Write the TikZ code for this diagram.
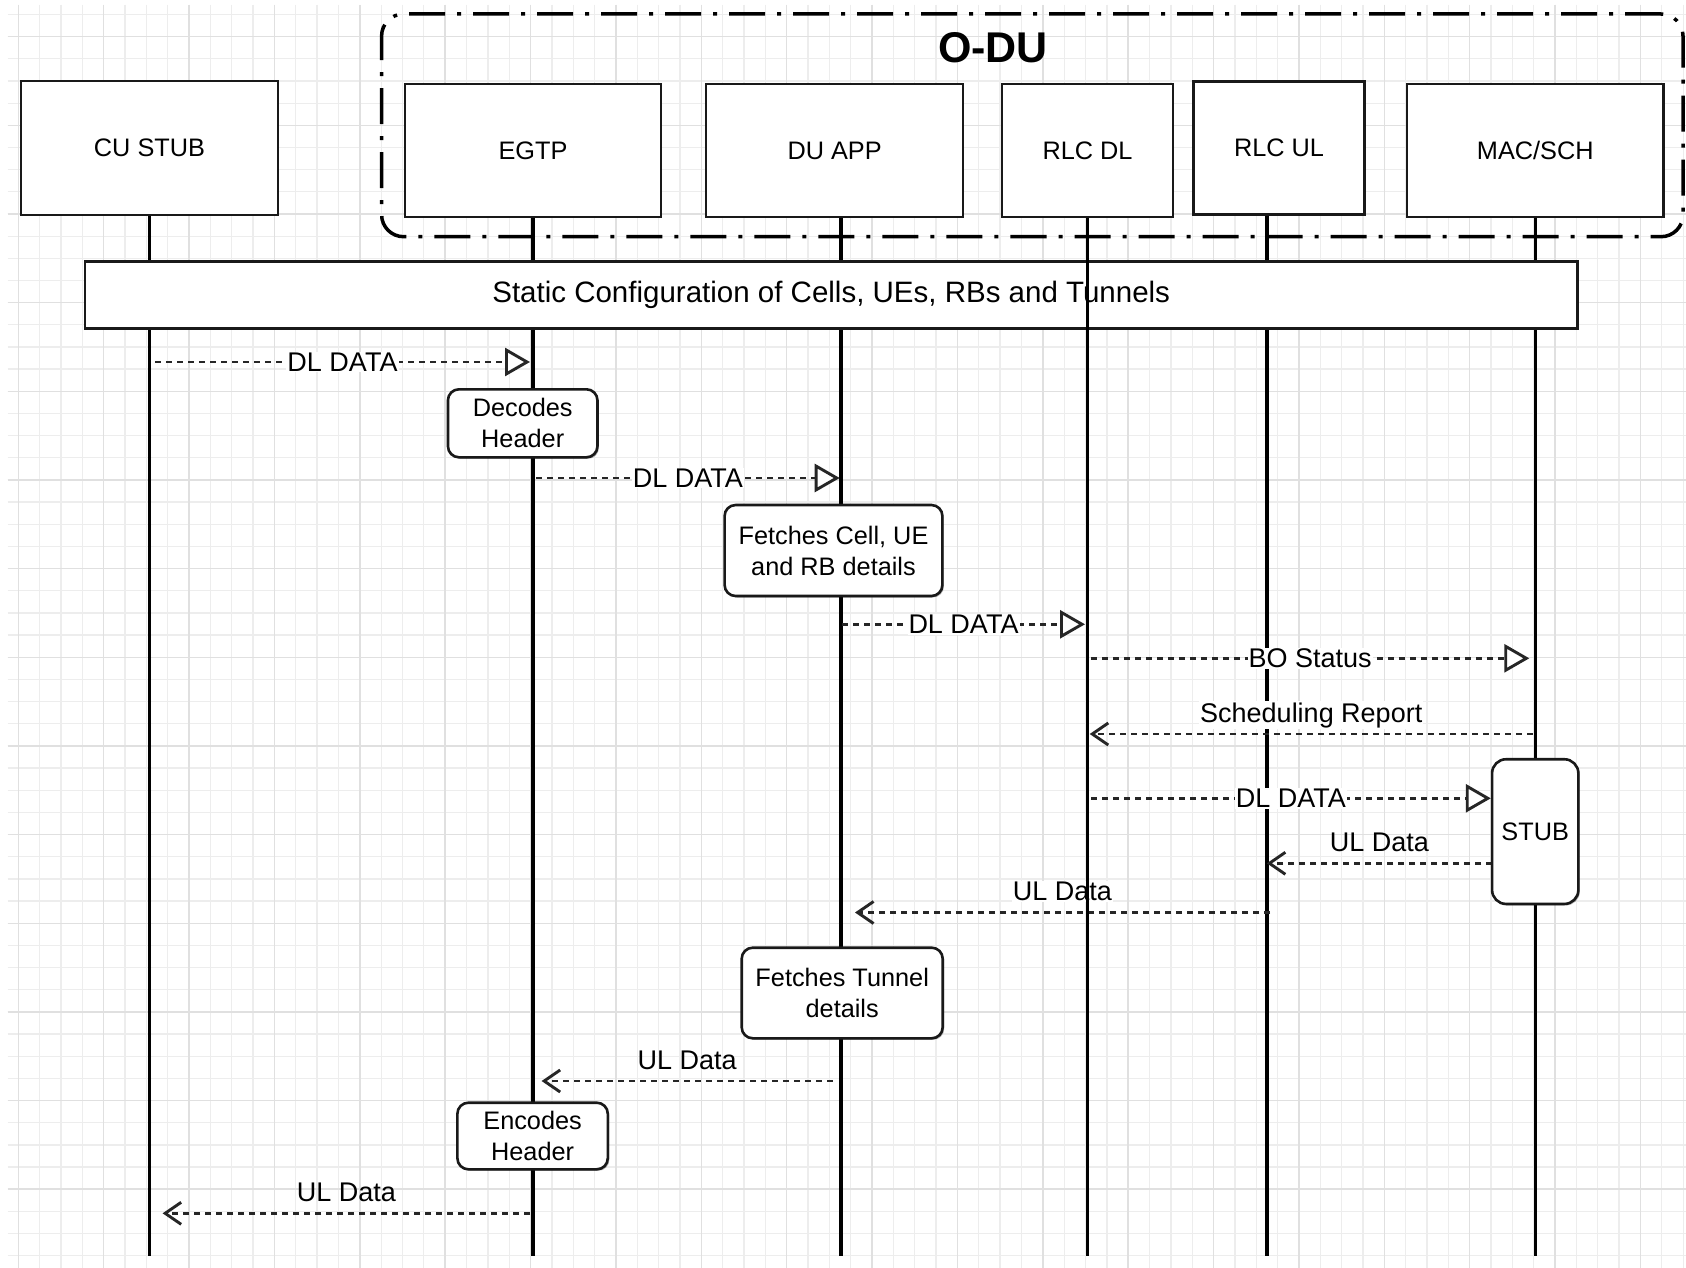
\documentclass[tikz,border=0pt]{standalone}
\usepackage{fontspec}
\setmainfont{Liberation Sans}
\usetikzlibrary{arrows.meta,shadows}
\newcommand\myboxfont{\fontsize{25.3}{31}\selectfont}
\newcommand\mymsgfont{\fontsize{27}{32}\selectfont}
\newcommand\mycfgfont{\fontsize{29.5}{34}\selectfont}
\newcommand\myodufont{\fontsize{43}{50}\selectfont\bfseries}
\begin{document}
\begin{tikzpicture}[x=1pt,y=-1pt,
  minorgrid/.style={draw=black!7, line width=1.3pt},
  majorgrid/.style={draw=black!12, line width=1.6pt},
  headbox/.style={draw=black!90, line width=2.6pt, fill=white, inner sep=0pt, font=\myboxfont},
  actbox/.style={draw=black!90, line width=2.6pt, fill=white, rounded corners=11pt, inner sep=0pt, align=center, font=\myboxfont, drop shadow={shadow xshift=1.5pt, shadow yshift=-1.5pt, opacity=0.3, fill=black}},
  lifeline/.style={draw=black, line width=3.2pt},
  msg/.style={draw=black!85, line width=2.9pt, dash pattern=on 6pt off 5pt},
  fwd/.style={msg, -{Triangle[length=25pt, width=28pt, fill=white]}},
  back/.style={msg, -{Straight Barb[length=16pt, width=22pt]}},
  online/.style={midway, fill=white, inner sep=1pt, font=\mymsgfont, text=black},
  overline/.style={midway, anchor=base, yshift=12pt, inner sep=0pt, font=\mymsgfont, text=black},
]
% background and grid
\fill[white] (0,0) rectangle (1686,1268);
\useasboundingbox (0,0) rectangle (1686,1268);
\foreach \i in {0,...,78}{\draw[minorgrid] ({18.3+21.344*\i},5) -- ({18.3+21.344*\i},1268);}
\foreach \j in {0,...,56}{\draw[minorgrid] (7.5,{14.5+22.165*\j}) -- (1686,{14.5+22.165*\j});}
\foreach \i in {0,...,19}{\draw[majorgrid] ({18.3+85.375*\i},5) -- ({18.3+85.375*\i},1268);}
\foreach \j in {0,...,13}{\draw[majorgrid] (7.5,{36.7+88.66*\j}) -- (1686,{36.7+88.66*\j});}

% O-DU group
\node[draw=black, line width=3.5pt, dash pattern=on 36pt off 12pt on 4pt off 12pt,
      rounded corners=22pt, minimum width=1301.4pt, minimum height=222.7pt, inner sep=0pt]
      (odu) at (1032.3,125.35) {};
\node[font=\myodufont, inner sep=0pt] (odulbl) at (993,48) {O-DU};

% head boxes
\node[headbox, minimum width=257pt, minimum height=134pt] (cu) at (149.5,148) {CU STUB};
\node[headbox, minimum width=256pt, minimum height=133pt] (egtp) at (533,150.7) {EGTP};
\node[headbox, minimum width=257pt, minimum height=133pt] (duapp) at (834.6,150.7) {DU APP};
\node[headbox, minimum width=171pt, minimum height=133pt] (rlcdl) at (1087.5,150.7) {RLC DL};
\node[headbox, minimum width=171.5pt, minimum height=132.5pt] (rlcul) at (1279,148) {RLC UL};
\node[headbox, minimum width=256.5pt, minimum height=133pt] (mac) at (1535.3,150.7) {MAC/SCH};

% lifelines
\coordinate (bot) at (0,1256);
\coordinate (cuTop) at (cu.south);
\coordinate (egTop) at (egtp.south);
\coordinate (duTop) at ([xshift=6.4pt]duapp.south);
\coordinate (dlTop) at (rlcdl.south);
\coordinate (ulTop) at ([xshift=-12pt]rlcul.south);
\coordinate (macTop) at (mac.south);
\coordinate (cuBot) at (cuTop |- bot);
\coordinate (egBot) at (egTop |- bot);
\coordinate (duBot) at (duTop |- bot);
\coordinate (dlBot) at (dlTop |- bot);
\coordinate (ulBot) at (ulTop |- bot);
\coordinate (macBot) at (macTop |- bot);
\draw[lifeline] (cuTop) -- (cuBot);
\draw[lifeline] (egTop) -- (egBot);
\draw[lifeline] (duTop) -- (duBot);
\draw[lifeline] (ulTop) -- (ulBot);
\draw[lifeline] (macTop) -- (macBot);

% static configuration bar
\node[draw=black!90, line width=2.6pt, fill=white, minimum width=1492.4pt, minimum height=66.6pt,
      inner sep=0pt, font=\mycfgfont,
      drop shadow={shadow xshift=1.5pt, shadow yshift=-1.5pt, opacity=0.3, fill=black}]
      (cfg) at (831.2,295) {Static Configuration of Cells, UEs, RBs and Tunnels};

% message end points
\coordinate (m1a) at (155,362);    \coordinate (m1b) at (530,362);
\coordinate (m2a) at (536,478);    \coordinate (m2b) at (839.7,478);
\coordinate (m3a) at (842,624.3);  \coordinate (m3b) at (1085,624.3);
\coordinate (m4a) at (1091,658.3); \coordinate (m4b) at (1529.3,658.3);
\coordinate (m5a) at (1532.8,734); \coordinate (m5b) at (1089.7,734);
\coordinate (m6a) at (1091,798.3); \coordinate (m6b) at (1490.8,798.3);
\coordinate (m7a) at (1492,863.3); \coordinate (m7b) at (1266.8,863.3);
\coordinate (m8a) at (1270,912.5); \coordinate (m8b) at (855,912.5);
\coordinate (m9a) at (832.5,1081); \coordinate (m9b) at (541.6,1081);
\coordinate (m10a) at (530,1213.3); \coordinate (m10b) at (162.6,1213.3);

% messages
\draw[fwd] (m1a) -- node[online] (l1) {DL DATA} (m1b);
\draw[fwd] (m2a) -- node[online] (l2) {DL DATA} (m2b);
\draw[fwd] (m3a) -- node[online] (l3) {DL DATA} (m3b);
\draw[fwd] (m4a) -- node[online] (l4) {BO Status} (m4b);
\draw[back] (m5a) -- node[overline, fill=white, inner sep=1pt] (l5) {Scheduling Report} (m5b);
\draw[fwd] (m6a) -- node[online] (l6) {DL DATA} (m6b);
\draw[back] (m7a) -- node[overline] (l7) {UL Data} (m7b);
\draw[back] (m8a) -- node[overline, fill=white, inner sep=1pt] (l8) {UL Data} (m8b);
\draw[back] (m9a) -- node[overline] (l9) {UL Data} (m9b);
\draw[back] (m10a) -- node[overline] (l10) {UL Data} (m10b);

% activation boxes
\node[actbox, minimum width=149.5pt, minimum height=68pt] (decodes) at (522.7,423.3) {Decodes\\Header};
\node[actbox, minimum width=217.8pt, minimum height=91pt] (fetch1) at (833.5,550.5) {Fetches Cell, UE\\and RB details};
\node[actbox, rounded corners=14pt, minimum width=86.3pt, minimum height=144.7pt] (stub) at (1535.2,831.6) {STUB};
\node[actbox, minimum width=201pt, minimum height=90.6pt] (fetch2) at (842.2,993) {Fetches Tunnel\\details};
\node[actbox, minimum width=150.4pt, minimum height=66.6pt] (encodes) at (532.6,1136) {Encodes\\Header};

% RLC DL lifeline drawn on top of everything
\draw[lifeline] (dlTop) -- (dlBot);
\end{tikzpicture}
\end{document}
